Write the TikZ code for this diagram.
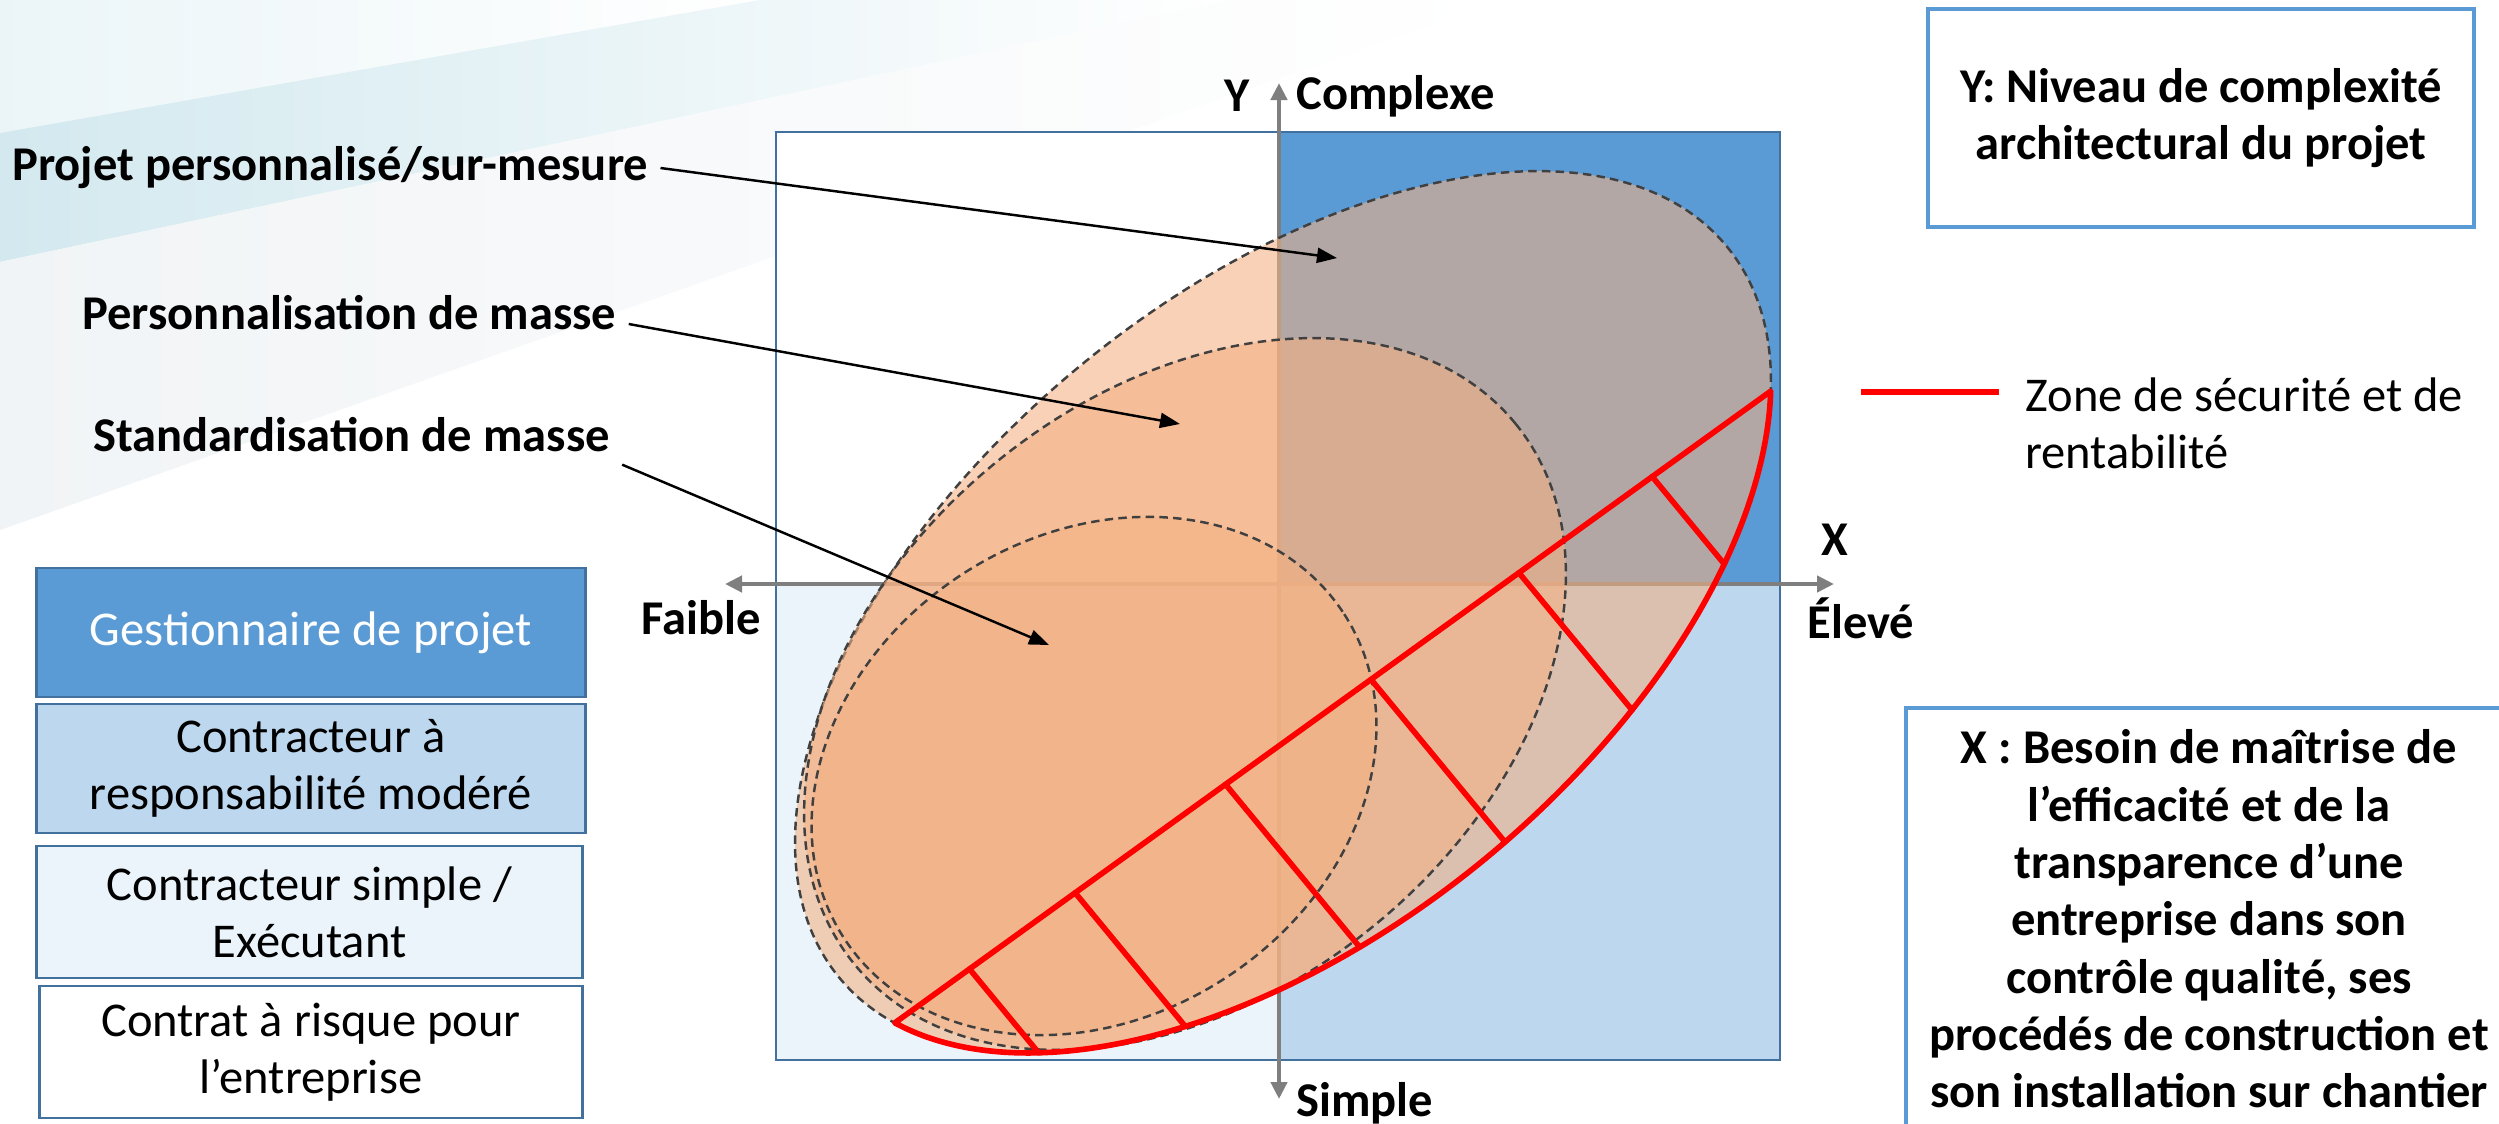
\documentclass[tikz,border=0pt]{standalone}
\usepackage{fontspec}
\setmainfont{Carlito}
\usepackage{xcolor}
\definecolor{qBlue}{HTML}{5B9BD5}
\definecolor{qLight}{HTML}{BDD7EE}
\definecolor{qPale}{HTML}{EAF4FA}
\definecolor{edgeBlue}{HTML}{41719C}
\definecolor{axisGray}{HTML}{7F7F7F}
\definecolor{blobOrange}{HTML}{F4B183}
\definecolor{dashGray}{HTML}{404040}
\definecolor{bandCyan}{HTML}{D3E9EF}
\definecolor{bandGray}{HTML}{F1F4F6}
\usepackage{tikz}
\usetikzlibrary{arrows.meta}

\tikzset{
  txt/.style={font=\fontsize{13.8}{16.3}\selectfont},
  bold/.style={font=\fontsize{13.8}{16.3}\selectfont\bfseries},
  rolebox/.style={draw=edgeBlue, line width=0.8pt, minimum width=5.48cm, align=center, txt},
  blob/.style={fill=blobOrange, fill opacity=0.58, draw=dashGray, line width=0.7pt, dash pattern=on 2.4pt off 1.5pt},
  zone/.style={red, line width=1.6pt, line cap=round, line join=round},
  axis/.style={axisGray, line width=1.4pt, {Triangle[length=1.7mm, width=1.6mm]}-{Triangle[length=1.7mm, width=1.6mm]}},
  leader/.style={black, line width=0.7pt, -{Triangle[length=2mm, width=1.5mm]}},
}

\begin{document}
\begin{tikzpicture}[x=0.01cm, y=-0.01cm]
  \useasboundingbox (0,0) rectangle (2499,1124);
  \fill[white] (0,0) rectangle (2499,1124);
  % ---- background bands ----
  \shade[left color=bandCyan!45, right color=white] (0,0) -- (760,0) -- (0,133) -- cycle;
  \shade[left color=bandCyan, right color=white] (0,133) -- (760,0) -- (1230,0) -- (0,262) -- cycle;
  \shade[left color=bandGray, right color=white] (0,262) -- (1230,0) -- (1500,0) -- (0,530) -- cycle;

  % ---- quadrants ----
  \fill[white] (776,132) rectangle (1279,584);
  \fill[qBlue] (1279,132) rectangle (1780,584);
  \fill[qPale] (776,584) rectangle (1279,1060);
  \fill[qLight] (1279,584) rectangle (1780,1060);
  \draw[edgeBlue, line width=0.8pt] (776,132) rectangle (1780,1060);

  % ---- axes ----
  \coordinate (xLow) at (725,584);
  \coordinate (xHigh) at (1834,584);
  \coordinate (yLow) at (1279,1099);
  \coordinate (yHigh) at (1279,83);
  \draw[axis] (xLow) -- (xHigh);
  \draw[axis] (yLow) -- (yHigh);

  % ---- project families ----
  \begin{scope}[shift={(1283,612)}, rotate=39.5]
    \draw[blob] (0,0) ellipse [x radius=575, y radius=319];
  \end{scope}
  \begin{scope}[shift={(1185,694)}, rotate=39.3]
    \draw[blob] (0,0) ellipse [x radius=427, y radius=299];
  \end{scope}
  \begin{scope}[shift={(1094,776)}, rotate=32.9]
    \draw[blob] (0,0) ellipse [x radius=298, y radius=241];
  \end{scope}

  % ---- safety zone ----
  \begin{scope}[shift={(1283,612)}, rotate=39.5]
    \draw[zone] (167.3:575 and 319) arc[start angle=167.3, end angle=26, x radius=575, y radius=319] -- cycle;
    \foreach \t in {-469,-339,-154,25,207,371}
      \draw[zone] (\t,{70.1+(\t+560.9)*0.06467}) -- (\t,{319*sqrt(1-(\t/575)^2)});
  \end{scope}

  % ---- labels with leaders ----
  \node[bold, anchor=west] (lblCustom) at (0,168) {Projet personnalisé/sur-mesure};
  \node[bold, anchor=west] (lblMassCustom) at (70,313) {Personnalisation de masse};
  \node[bold, anchor=west] (lblMassStd) at (81,435) {Standardisation de masse};
  \coordinate (tipCustom) at (1337,258);
  \coordinate (tipMassCustom) at (1180,424);
  \coordinate (tipMassStd) at (1049,645);
  \draw[leader] (lblCustom.east) -- (tipCustom);
  \draw[leader] ([yshift=-0.11cm]lblMassCustom.east) -- (tipMassCustom);
  \draw[leader] (lblMassStd.south east) -- (tipMassStd);

  % ---- axis names ----
  \node[bold] (lblY) at (1237,96) {Y};
  \node[bold, anchor=west] (lblComplex) at (1284,96) {Complexe};
  \node[bold] (lblLow) at (701,618) {Faible};
  \node[bold] (lblHigh) at (1861,618) {Élevé};
  \node[bold] (lblX) at (1835,540) {X};
  \node[bold, anchor=west] (lblSimple) at (1284,1103) {Simple};

  % ---- roles ----
  \node[rolebox, fill=qBlue, text=white, minimum height=1.29cm] (roleManager) at (311,632.5) {Gestionnaire de projet};
  \node[rolebox, fill=qLight, minimum height=1.29cm] (roleModerate) at (311,768.5) {Contracteur à\\responsabilité modéré};
  \node[rolebox, fill=qPale, minimum height=1.32cm, minimum width=5.45cm] (roleSimple) at (309.5,912) {Contracteur simple /\\Exécutant};
  \node[rolebox, fill=white, minimum height=1.32cm, minimum width=5.42cm] (roleRisk) at (311,1052) {Contrat à risque pour\\l’entreprise};

  % ---- axis definitions and key ----
  \node[draw=qBlue, line width=1.3pt, minimum width=5.46cm, minimum height=2.18cm, align=center, bold] (boxY) at (2201,118)
    {Y: Niveau de complexité\\architectural du projet};
  \draw[qBlue, line width=1.3pt] (1906,708) rectangle (2530,1150);
  \node[bold, align=center] (boxX) at (2209,919)
    {X : Besoin de maîtrise de\\l’efficacité et de la\\transparence d’une\\entreprise dans son\\contrôle qualité, ses\\procédés de construction et\\son installation sur chantier};
  \coordinate (keyStart) at (1861,392);
  \coordinate (keyEnd) at (1999,392);
  \draw[red, line width=1.5pt] (keyStart) -- (keyEnd);
  \node[txt, anchor=west, align=left] (keyText) at (2013,423) {Zone de sécurité et de\\rentabilité};
\end{tikzpicture}
\end{document}
